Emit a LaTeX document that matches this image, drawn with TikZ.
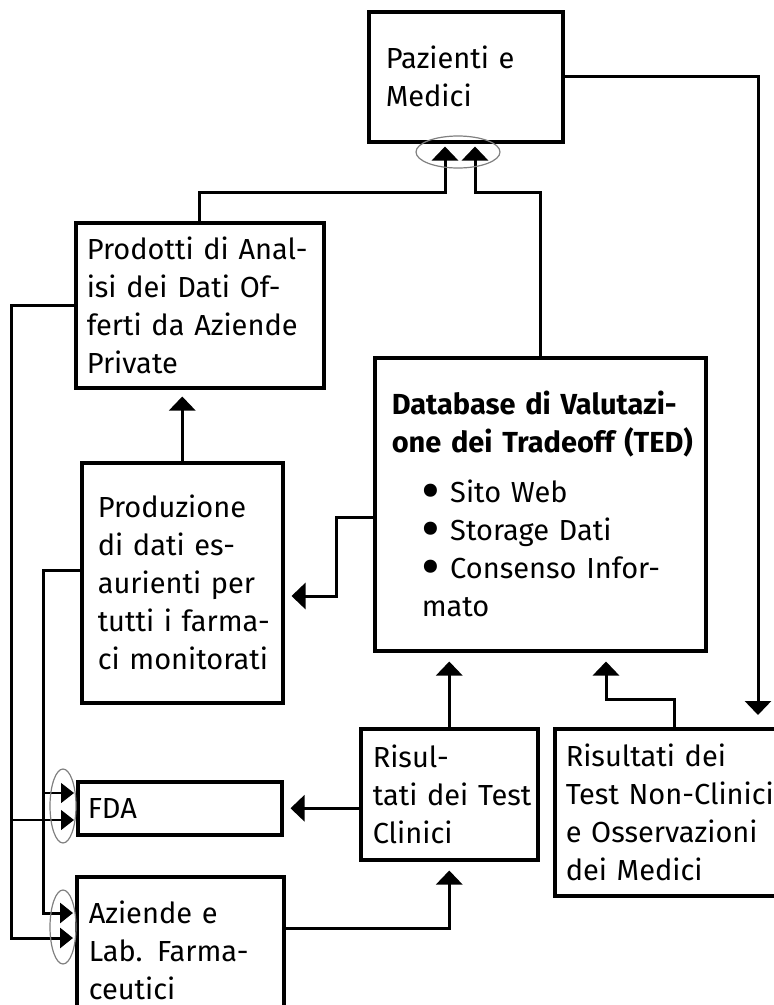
\documentclass[tikz,border=0pt]{standalone}
\usepackage{fontspec}
\setmainfont{Fira Sans}
\usetikzlibrary{arrows.meta}

\newcommand{\tedbullet}{\raisebox{-8pt}{\scalebox{2}{•}}~}

\begin{document}
\begin{tikzpicture}[x=1pt,y=-1pt,->,>={Triangle[width=26pt,length=14pt]},
  line width=3pt,
  box/.style={draw,-,line width=3.5pt,anchor=north west,align=left,
    inner ysep=0pt,font=\fontsize{29}{38}\selectfont},
  small tip/.style={-{Triangle[width=20pt,length=13pt]}},
  ring/.style={draw=gray,line width=1.2pt,-}]

  \useasboundingbox (0,0) rectangle (774,1005);

  \node[box,text width=160pt,inner xsep=17pt,minimum height=130pt] (pazienti) at (367,10)
    {\mbox{Pazienti e}\\Medici};
  \node[box,text width=226pt,inner xsep=11pt,minimum height=165pt] (prodotti) at (74,221)
    {\mbox{Prodotti di Anal-}\\\mbox{isi dei Dati Of-}\\\mbox{ferti da Aziende}\\Private};
  \node[box,text width=169pt,inner xsep=16pt,minimum height=240pt] (produzione) at (80,461)
    {Produzione\\\mbox{di dati es-}\\\mbox{aurienti per}\\\mbox{tutti i farma-}\\\mbox{ci monitorati}};
  \node[box,text width=297pt,inner xsep=17pt,minimum height=293pt] (ted) at (373,356)
    {\textbf{\mbox{Database di Valutazi-}}\\\textbf{\mbox{one dei Tradeoff (TED)}}\\[12pt]
     \hspace*{30pt}\tedbullet \mbox{Sito Web}\\\hspace*{30pt}\tedbullet \mbox{Storage Dati}\\
     \hspace*{30pt}\tedbullet \mbox{Consenso Infor-}\\\hspace*{30pt}mato\par\vspace{14pt}};
  \node[box,text width=153pt,inner xsep=12pt,minimum height=131pt] (clinici) at (359,727)
    {Risul-\\\mbox{tati dei Test}\\Clinici};
  \node[box,text width=218pt,inner xsep=11pt,minimum height=167pt] (nonclinici) at (553,727)
    {\mbox{Risultati dei}\\\mbox{Test Non-Clinici}\\\mbox{e Osservazioni}\\\mbox{dei Medici}};
  \node[box,text width=184pt,inner xsep=10pt,minimum height=53pt] (fda) at (76,780)
    {FDA};
  \node[box,text width=183pt,inner xsep=12pt,minimum height=140pt,text depth=70pt] (aziende) at (75,875)
    {\mbox{Aziende e}\\\mbox{Lab. Farma-}\\ceutici};

  % verso Pazienti e Medici
  \draw[shorten >=3pt] (prodotti.north) |- (445,192) -- (pazienti.south -| 445,0);
  \draw[shorten >=3pt] (ted.north) |- (475,192) -- (pazienti.south -| 475,0);
  \draw[ring] (458,152) ellipse (42pt and 16pt);

  % da Pazienti e Medici
  \draw[shorten >=12pt] (pazienti.east) -| (nonclinici.north -| 758,0);

  % verso TED
  \draw[shorten >=9pt] (clinici.north) -- (clinici.north |- ted.south);
  \draw[shorten >=9pt] (nonclinici.north) |- (606,699) -- (ted.south -| 606,0);

  % da TED e Prodotti
  \draw[shorten >=7pt] (ted.west |- 0,517) -| (336,596) -- (produzione.east |- 0,596);
  \draw[shorten >=7pt] (produzione.north) -- (produzione.north |- prodotti.south);
  \draw[shorten >=7pt] (clinici.west |- fda.east) -- (fda.east);
  \draw[shorten >=9pt] (aziende.east |- 0,928) -| (clinici.south);

  % linee a sinistra
  \draw[small tip,shorten >=2pt] (prodotti.west) -| (11,938) -- (aziende.west |- 0,938);
  \draw[small tip,shorten >=2pt] (produzione.west |- 0,570) -| (43,913) -- (aziende.west |- 0,913);
  \draw[small tip,shorten >=2pt,line width=1.2pt] (43,793) -- (fda.west |- 0,793);
  \draw[small tip,shorten >=2pt,line width=1.2pt] (11,820) -- (fda.west |- 0,820);
  \draw[ring] (63,806) ellipse (13pt and 37pt);
  \draw[ring] (63,927) ellipse (13pt and 37pt);

\end{tikzpicture}
\end{document}
